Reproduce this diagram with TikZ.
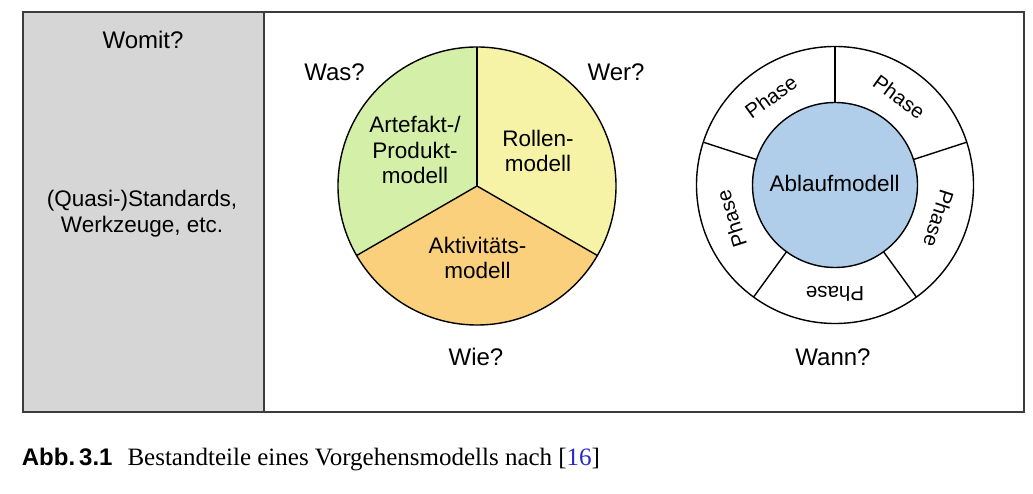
\documentclass[tikz,border=0pt]{standalone}
\usepackage{fontspec}
\setmainfont{Liberation Sans}
\newfontfamily\capserif{Liberation Serif}
\usetikzlibrary{calc}
\definecolor{panelgray}{RGB}{214,214,214}
\definecolor{boxcol}{RGB}{60,60,60}
\definecolor{pgreen}{RGB}{212,240,168}
\definecolor{pyellow}{RGB}{247,243,166}
\definecolor{porange}{RGB}{250,208,125}
\definecolor{pblue}{RGB}{176,206,234}
\definecolor{citeblue}{RGB}{40,40,200}
\tikzset{
  boxline/.style={draw=boxcol, line width=2pt},
  shapeline/.style={draw=black, line width=1.4pt},
  lbl/.style={font=\fontsize{22.5}{25.5}\selectfont, inner sep=0pt, align=center},
  bigq/.style={font=\fontsize{24}{28}\selectfont, inner sep=0pt},
  phaselbl/.style={font=\fontsize{20.5}{24}\selectfont, inner sep=0pt},
}
\begin{document}
\begin{tikzpicture}[x=1pt,y=1pt]
\useasboundingbox (0,0) rectangle (1033,493);
\fill[white] (0,0) rectangle (1033,493);
% panels
\fill[panelgray] (23,81.5) rectangle (264,480.5);
\draw[boxline] (23,81.5) rectangle (1023.5,480.5);
\draw[boxline] (264,81.5) -- (264,480.5);
% left panel texts
\node[bigq, anchor=base] (womit) at (143,444.4) {Womit?};
\node[lbl, anchor=base] (std1) at (142,286.3) {(Quasi-)Standards,};
\node[lbl, anchor=base] (std2) at (142,260.3) {Werkzeuge, etc.};
% pie
\coordinate (pc) at (477,307);
\fill[pgreen] (pc) -- ++(90:139) arc[start angle=90,end angle=210,radius=139] -- cycle;
\fill[pyellow] (pc) -- ++(-30:139) arc[start angle=-30,end angle=90,radius=139] -- cycle;
\fill[porange] (pc) -- ++(210:139) arc[start angle=210,end angle=330,radius=139] -- cycle;
\draw[shapeline] (pc) circle[radius=139];
\draw[shapeline] (pc) -- ++(90:139);
\draw[shapeline] (pc) -- ++(210:139);
\draw[shapeline] (pc) -- ++(330:139);
\node[lbl] (artefakt) at (415,342.8) {Artefakt-/\\Produkt-\\modell};
\node[lbl] (rollen) at (538,342.1) {Rollen-\\modell};
\node[lbl] (aktiv) at (477.5,235) {Aktivitäts-\\modell};
\node[bigq, anchor=base] (was) at (334.5,412) {Was?};
\node[bigq, anchor=base] (wer) at (616,412) {Wer?};
\node[bigq, anchor=base] (wie) at (476,128) {Wie?};
% ring
\coordinate (rc) at (835,308);
\draw[shapeline, fill=white] (rc) circle[radius=138.5];
\draw[shapeline, fill=pblue] (rc) circle[radius=82.5];
\foreach \a in {90,162,234,306,18}
  \draw[shapeline] ([shift={(\a:82.5)}]rc) -- ([shift={(\a:138.5)}]rc);
\foreach \a/\n in {126/ph1,54/ph2,-18/ph3,198/ph4,270/ph5}
  \node[phaselbl, rotate=\a-90] (\n) at ([shift={(\a:109)}]rc) {Phase};
\node[lbl, anchor=base] (ablauf) at (834.7,301.3) {Ablaufmodell};
\node[bigq, anchor=base] (wann) at (833,128) {Wann?};
% caption
\node[font=\fontsize{24}{28}\selectfont\bfseries, inner sep=0pt, anchor=base west] (abb) at (21.7,28) {Abb.\,3.1};
\node[font=\fontsize{25}{28}\capserif, inner sep=0pt, anchor=base west] (cap) at (127.3,28) {Bestandteile eines Vorgehensmodells nach [\textcolor{citeblue}{16}]};
\end{tikzpicture}
\end{document}
